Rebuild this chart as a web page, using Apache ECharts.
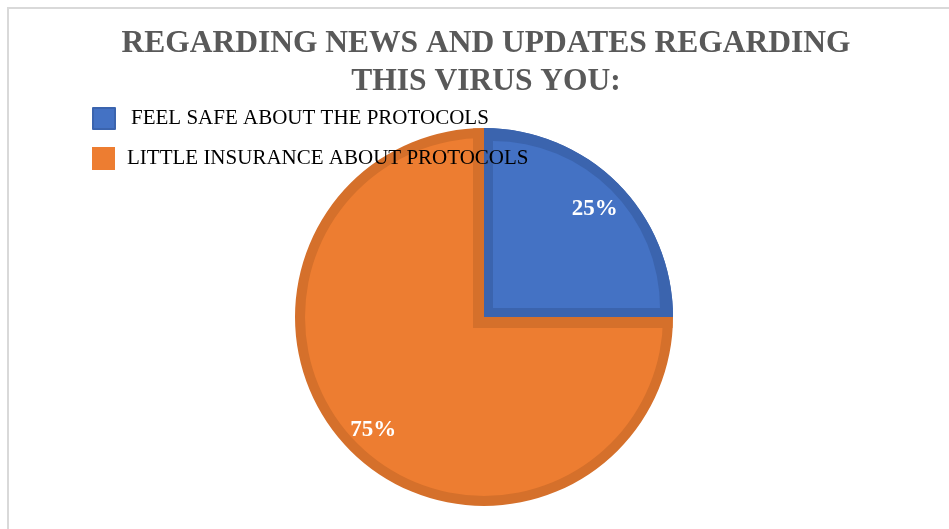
<!DOCTYPE html>
<html>
<head>
<meta charset="utf-8">
<script src="https://cdn.jsdelivr.net/npm/echarts@6/dist/echarts.min.js"></script>
<style>
  html, body { margin: 0; padding: 0; background: #ffffff; }
  #chart { width: 949px; height: 529px; }
</style>
</head>
<body>
<div id="chart"></div>
<script>
// Survey answers and their shares (percent)
const categories = ['FEEL SAFE ABOUT THE PROTOCOLS', 'LITTLE INSURANCE ABOUT PROTOCOLS'];
const shares = [25, 75];
const titleLines = ['REGARDING NEWS AND UPDATES REGARDING', 'THIS VIRUS YOU:'];

const fillColors = ['#4472C4', '#ED7D31'];
const edgeColors = ['#3B64AE', '#D5702B'];
const NONE = 'rgba(0,0,0,0)';

// pie geometry
const cx = 484, cy = 317, R = 189, rimWidth = 10;

// One pie layer over the shared data; colorOf picks the fill of each slice.
function pieLayer(center, radius, colorOf, extra) {
  return Object.assign({
    type: 'pie',
    center: center,
    radius: radius,
    startAngle: 90,
    clockwise: true,
    silent: true,
    animation: false,
    avoidLabelOverlap: false,
    label: { show: false },
    labelLine: { show: false },
    emphasis: { disabled: true },
    data: categories.map((name, i) => ({
      name: name,
      value: shares[i],
      itemStyle: { color: colorOf(i), borderWidth: 0 }
    }))
  }, extra || {});
}

const legendFont = {
  fontFamily: 'Liberation Serif',
  fontSize: 21,
  color: '#000000'
};

const option = {
  backgroundColor: '#ffffff',
  title: {
    text: titleLines.join('\n'),
    left: 486,
    top: 25,
    padding: 0,
    textAlign: 'center',
    textStyle: {
      fontFamily: 'Liberation Serif',
      fontWeight: 'bold',
      fontSize: 31.5,
      lineHeight: 38,
      color: '#595959'
    }
  },
  legend: [
    {
      left: 92, top: 107, padding: 0,
      itemWidth: 22, itemHeight: 21,
      selectedMode: false,
      icon: 'rect',
      textStyle: Object.assign({ padding: [5, 0, 0, 11] }, legendFont),
      data: [{ name: categories[0], itemStyle: { color: fillColors[0], borderColor: edgeColors[0], borderWidth: 2 } }]
    },
    {
      left: 92, top: 147, padding: 0,
      itemWidth: 23, itemHeight: 23,
      selectedMode: false,
      icon: 'rect',
      textStyle: Object.assign({ padding: [3, 0, 0, 7] }, legendFont),
      data: [{ name: categories[1], itemStyle: { color: fillColors[1], borderWidth: 0 } }]
    }
  ],
  graphic: [{
    type: 'rect',
    silent: true,
    shape: { x: 8, y: 8, width: 1000, height: 600 },
    style: { fill: 'none', stroke: '#D9D9D9', lineWidth: 2 }
  }],
  series: [
    // darker rim colour for both slices
    pieLayer([cx, cy], R, i => edgeColors[i]),
    // orange face
    pieLayer([cx, cy], R - rimWidth, i => (i === 1 ? fillColors[1] : NONE)),
    // orange rim running along the edges of the blue slice
    pieLayer([cx - 11, cy + 11], 199.5, i => (i === 0 ? edgeColors[1] : NONE)),
    // blue rim
    pieLayer([cx, cy], R, i => (i === 0 ? edgeColors[0] : NONE)),
    // blue face
    pieLayer([cx + 9, cy - 9], 167, i => (i === 0 ? fillColors[0] : NONE)),
    // percentage labels
    pieLayer([cx, cy + 2.5], [122, 185], () => NONE, {
      label: {
        show: true,
        position: 'inside',
        formatter: '{d}%',
        color: '#ffffff',
        fontFamily: 'Liberation Serif',
        fontWeight: 'bold',
        fontSize: 23
      }
    })
  ]
};

const chart = echarts.init(document.getElementById('chart'), null, { renderer: 'canvas' });
chart.setOption(option);
</script>
</body>
</html>
